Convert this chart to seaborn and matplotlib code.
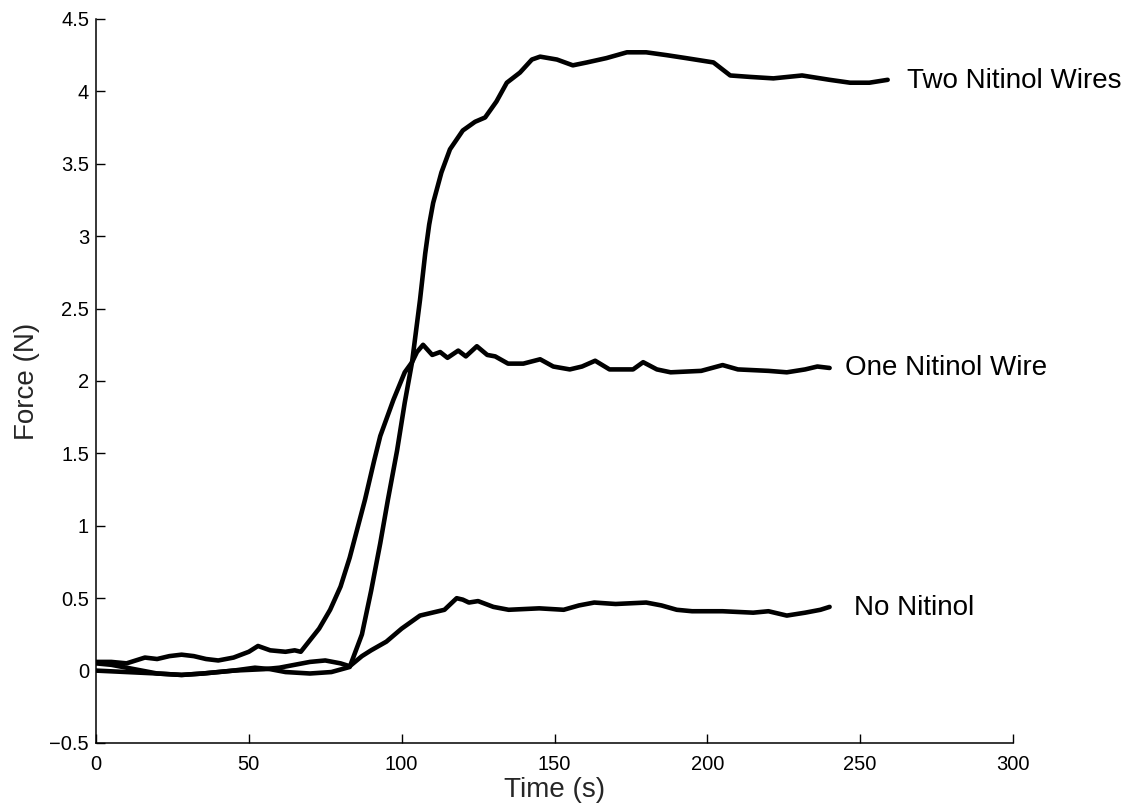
import matplotlib
matplotlib.use("Agg")
import matplotlib.pyplot as plt
import seaborn as sns
import pandas as pd

# ---- data ----
t_none = [0, 5, 10, 15, 20, 28, 35, 45, 55, 60, 65, 70, 75, 80, 83, 87, 90, 95, 100, 106,
          110, 114, 118, 120, 122, 125, 130, 135, 145, 153, 158, 163, 170, 180, 185, 190,
          195, 205, 215, 220, 226, 232, 237, 240]
f_none = [0.05, 0.04, 0.02, 0.00, -0.02, -0.03, -0.02, 0.00, 0.01, 0.02, 0.04, 0.06, 0.07,
          0.05, 0.03, 0.10, 0.14, 0.20, 0.29, 0.38, 0.40, 0.42, 0.50, 0.49, 0.47, 0.48, 0.44,
          0.42, 0.43, 0.42, 0.45, 0.47, 0.46, 0.47, 0.45, 0.42, 0.41, 0.41, 0.40, 0.41, 0.38,
          0.40, 0.42, 0.44]

t_one = [0, 5, 10, 13, 16, 20, 24, 28, 32, 36, 40, 45, 50, 53, 57, 62, 65, 67, 70, 73, 76.6,
         80, 83, 86, 88, 91, 93, 97.3, 101, 103.4, 105, 107, 110, 112.6, 115, 118.5, 121,
         124.6, 128, 130.6, 134.8, 139.8, 145.3, 149.6, 155, 159, 163.3, 168, 175.7, 179,
         183.5, 188, 198, 205, 210, 220, 226, 232, 236, 240]
f_one = [0.06, 0.06, 0.05, 0.07, 0.09, 0.08, 0.10, 0.11, 0.10, 0.08, 0.07, 0.09, 0.13, 0.17,
         0.14, 0.13, 0.14, 0.13, 0.21, 0.29, 0.42, 0.58, 0.78, 1.02, 1.18, 1.45, 1.62, 1.87,
         2.06, 2.13, 2.20, 2.25, 2.18, 2.20, 2.16, 2.21, 2.17, 2.24, 2.18, 2.17, 2.12, 2.12,
         2.15, 2.10, 2.08, 2.10, 2.14, 2.08, 2.08, 2.13, 2.08, 2.06, 2.07, 2.11, 2.08, 2.07,
         2.06, 2.08, 2.10, 2.09]

t_two = [0, 10, 20, 28, 35, 45, 52, 57, 62, 70, 77, 83, 87, 90, 93, 95.5, 98.5, 101, 103.4,
         106, 107.7, 109, 110.3, 113, 115.8, 120, 124, 127.3, 131, 134.4, 138.7, 142.6,
         145.3, 150.8, 156, 160.6, 167, 173.7, 180, 186.8, 193, 202, 207.5, 214, 221.6,
         231, 240, 246.7, 253, 259]
f_two = [0.00, -0.01, -0.02, -0.03, -0.02, 0.00, 0.02, 0.01, -0.01, -0.02, -0.01, 0.025,
         0.25, 0.55, 0.88, 1.18, 1.52, 1.85, 2.13, 2.56, 2.88, 3.08, 3.23, 3.44, 3.60, 3.73,
         3.79, 3.82, 3.93, 4.06, 4.13, 4.22, 4.24, 4.22, 4.18, 4.20, 4.23, 4.27, 4.27, 4.25,
         4.23, 4.20, 4.11, 4.10, 4.09, 4.11, 4.08, 4.06, 4.06, 4.08]

series_names = ["No Nitinol", "One Nitinol Wire", "Two Nitinol Wires"]
label_x = [248, 245, 265.4]
label_y = [0.43, 2.09, 4.07]

x_ticks = [0, 50, 100, 150, 200, 250, 300]
y_ticks = [-0.5, 0, 0.5, 1, 1.5, 2, 2.5, 3, 3.5, 4, 4.5]
y_tick_labels = ["\u22120.5", "0", "0.5", "1", "1.5", "2", "2.5", "3", "3.5", "4", "4.5"]

frames = []
for name, t, f in [(series_names[0], t_none, f_none),
                   (series_names[1], t_one, f_one),
                   (series_names[2], t_two, f_two)]:
    frames.append(pd.DataFrame({"t": t, "f": f, "series": name}))
df = pd.concat(frames, ignore_index=True)

sns.set_style("ticks")
plt.rcParams["font.family"] = ["Liberation Sans", "DejaVu Sans"]

fig = plt.figure(figsize=(11.37, 8.06), dpi=100)
ax = fig.add_axes([96 / 1137, 1 - 743 / 806, (1013 - 96) / 1137, (743 - 19) / 806])

for name in series_names:
    sub = df[df["series"] == name]
    sns.lineplot(data=sub, x="t", y="f", ax=ax, color="black", lw=3.3,
                 sort=False, estimator=None, legend=False)

for name, lx, ly in zip(series_names, label_x, label_y):
    ax.text(lx, ly, name, fontsize=20, va="center", ha="left", color="black")

ax.set_xlim(0, 300)
ax.set_ylim(-0.5, 4.5)
ax.set_xticks(x_ticks)
ax.set_xticklabels([str(v) for v in x_ticks])
ax.set_yticks(y_ticks)
ax.set_yticklabels(y_tick_labels)
ax.tick_params(direction="in", length=6.5, width=1, labelsize=14.5, colors="black")
ax.tick_params(axis="x", pad=9)
ax.tick_params(axis="y", pad=5)
for s in ["top", "right"]:
    ax.spines[s].set_visible(False)
for s in ["left", "bottom"]:
    ax.spines[s].set_linewidth(1.1)
    ax.spines[s].set_color("black")

ax.set_xlabel("Time (s)", fontsize=20, labelpad=2)
ax.set_ylabel("Force (N)", fontsize=20, labelpad=7)

fig.savefig("out.png", dpi=100)
